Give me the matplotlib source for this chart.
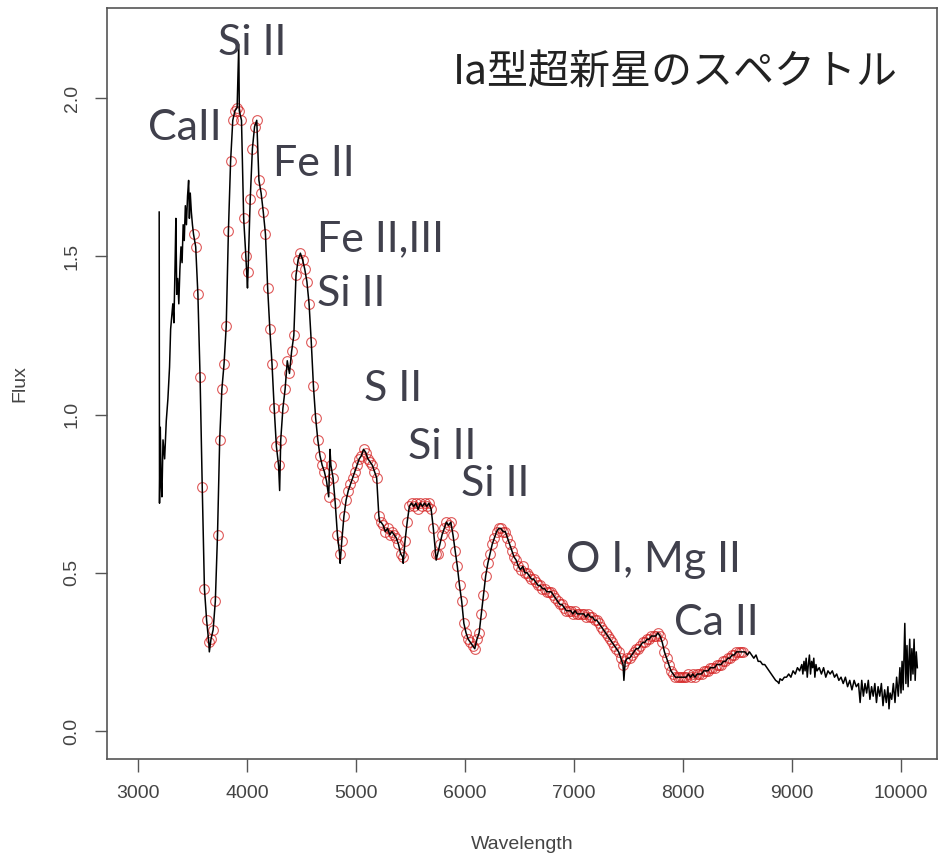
import matplotlib.pyplot as plt
import numpy as np

plt.rcParams['font.family'] = ['Liberation Sans', 'DejaVu Sans']

# espectro: parte azul antes de los circulos
wave_blue = [3195, 3198, 3205, 3212, 3220, 3230, 3245, 3260, 3275, 3290,
             3300, 3310, 3320, 3330, 3340, 3348, 3356, 3365, 3375, 3385,
             3395, 3405, 3415, 3425, 3435, 3445, 3455, 3465, 3472, 3480,
             3490, 3500]
flux_blue = [1.64, 0.72, 0.96, 0.80, 0.74, 0.92, 0.86, 0.98, 1.05, 1.15,
             1.27, 1.31, 1.35, 1.29, 1.46, 1.62, 1.38, 1.43, 1.35, 1.46,
             1.53, 1.48, 1.60, 1.55, 1.66, 1.60, 1.69, 1.74, 1.62, 1.70,
             1.64, 1.60]

# parte central (con circulos rojos)
wave_mid = [3510, 3530, 3550, 3570, 3590, 3610, 3630, 3650, 3670, 3690,
            3710, 3730, 3750, 3770, 3790, 3810, 3830, 3850, 3870, 3890,
            3910, 3930, 3950, 3970, 3990, 4010, 4030, 4050, 4070, 4090,
            4110, 4130, 4150, 4170, 4190, 4210, 4230, 4250, 4270, 4290,
            4310, 4330, 4350, 4370, 4390, 4410, 4430, 4450, 4470, 4490,
            4510, 4530, 4550, 4570, 4590, 4610, 4630, 4650, 4670, 4690,
            4710, 4730, 4750, 4770, 4790, 4810, 4830, 4850, 4870, 4890,
            4910, 4930, 4950, 4970, 4990, 5010, 5030, 5050, 5070, 5090,
            5110, 5130, 5150, 5170, 5190, 5210, 5230, 5250, 5270, 5290,
            5310, 5330, 5350, 5370, 5390, 5410, 5430, 5450, 5470, 5490,
            5510, 5530, 5550, 5570, 5590, 5610, 5630, 5650, 5670, 5690,
            5710, 5730, 5750, 5770, 5790, 5810, 5830, 5850, 5870, 5890,
            5910, 5930, 5950, 5970, 5990, 6010, 6030, 6050, 6070, 6090,
            6110, 6130, 6150, 6170, 6190, 6210, 6230, 6250, 6270, 6290,
            6310, 6330, 6350, 6370, 6390, 6410, 6430, 6450, 6470, 6490,
            6510, 6530, 6550, 6570, 6590, 6610, 6630, 6650, 6670, 6690,
            6710, 6730, 6750, 6770, 6790, 6810, 6830, 6850, 6870, 6890,
            6910, 6930, 6950, 6970, 6990, 7010, 7030, 7050, 7070, 7090,
            7110, 7130, 7150, 7170, 7190, 7210, 7230, 7250, 7270, 7290,
            7310, 7330, 7350, 7370, 7390, 7410, 7430, 7450, 7470, 7490,
            7510, 7530, 7550, 7570, 7590, 7610, 7630, 7650, 7670, 7690,
            7710, 7730, 7750, 7770, 7790, 7810, 7830, 7850, 7870, 7890,
            7910, 7930, 7950, 7970, 7990, 8010, 8030, 8050, 8070, 8090,
            8110, 8130, 8150, 8170, 8190, 8210, 8230, 8250, 8270, 8290,
            8310, 8330, 8350, 8370, 8390, 8410, 8430, 8450, 8470, 8490,
            8510, 8530, 8550]
flux_mid = [1.57, 1.53, 1.38, 1.12, 0.77, 0.45, 0.35, 0.28, 0.29, 0.32,
            0.41, 0.62, 0.92, 1.08, 1.16, 1.28, 1.58, 1.80, 1.93, 1.96,
            1.97, 1.96, 1.93, 1.62, 1.50, 1.45, 1.68, 1.84, 1.91, 1.93,
            1.74, 1.70, 1.64, 1.57, 1.40, 1.27, 1.16, 1.02, 0.90, 0.84,
            0.92, 1.02, 1.08, 1.17, 1.13, 1.20, 1.25, 1.44, 1.49, 1.51,
            1.49, 1.46, 1.42, 1.35, 1.23, 1.09, 0.99, 0.92, 0.87, 0.84,
            0.82, 0.79, 0.74, 0.84, 0.80, 0.72, 0.62, 0.56, 0.60, 0.68,
            0.73, 0.76, 0.78, 0.80, 0.82, 0.84, 0.86, 0.87, 0.89, 0.88,
            0.86, 0.85, 0.84, 0.82, 0.80, 0.68, 0.66, 0.65, 0.63, 0.64,
            0.62, 0.63, 0.62, 0.61, 0.59, 0.56, 0.55, 0.60, 0.66, 0.71,
            0.72, 0.71, 0.72, 0.70, 0.72, 0.71, 0.72, 0.71, 0.72, 0.70,
            0.64, 0.56, 0.56, 0.59, 0.62, 0.64, 0.66, 0.65, 0.66, 0.62,
            0.57, 0.52, 0.46, 0.41, 0.34, 0.31, 0.29, 0.28, 0.27, 0.26,
            0.29, 0.31, 0.37, 0.43, 0.49, 0.53, 0.56, 0.59, 0.61, 0.63,
            0.64, 0.64, 0.63, 0.63, 0.61, 0.59, 0.57, 0.55, 0.54, 0.52,
            0.51, 0.52, 0.50, 0.50, 0.49, 0.48, 0.48, 0.47, 0.46, 0.46,
            0.45, 0.45, 0.44, 0.44, 0.44, 0.43, 0.42, 0.41, 0.40, 0.40,
            0.39, 0.38, 0.38, 0.38, 0.37, 0.38, 0.37, 0.37, 0.37, 0.37,
            0.36, 0.37, 0.36, 0.36, 0.35, 0.35, 0.34, 0.33, 0.32, 0.31,
            0.30, 0.29, 0.28, 0.27, 0.26, 0.25, 0.23, 0.21, 0.22, 0.23,
            0.23, 0.24, 0.25, 0.26, 0.26, 0.27, 0.28, 0.28, 0.29, 0.29,
            0.30, 0.30, 0.30, 0.31, 0.30, 0.28, 0.25, 0.23, 0.21, 0.19,
            0.18, 0.17, 0.17, 0.17, 0.17, 0.17, 0.17, 0.18, 0.17, 0.18,
            0.17, 0.18, 0.18, 0.18, 0.19, 0.19, 0.19, 0.20, 0.20, 0.20,
            0.21, 0.21, 0.21, 0.22, 0.22, 0.23, 0.23, 0.24, 0.24, 0.25,
            0.25, 0.25, 0.25]

# picos estrechos que solo tiene la linea negra
wave_spike = [3655, 3925, 4005, 4300, 4762, 4855, 5219, 5433, 5736, 7458]
flux_spike = [0.25, 2.17, 1.40, 0.76, 0.89, 0.53, 0.66, 0.53, 0.54, 0.16]

# parte roja (solo linea negra, ruidosa)
wave_red = [8570, 8590, 8610, 8630, 8650, 8670, 8690, 8710, 8730, 8750,
            8770, 8790, 8810, 8830, 8850, 8870, 8880, 8890, 8910, 8930,
            8950, 8970, 8990, 9010, 9030, 9050, 9070, 9090, 9100, 9110,
            9120, 9130, 9140, 9150, 9160, 9170, 9180, 9190, 9200, 9210,
            9220, 9230, 9250, 9270, 9290, 9310, 9330, 9350, 9370, 9390,
            9410, 9430, 9450, 9470, 9490, 9510, 9530, 9550, 9570, 9590,
            9610, 9625, 9640, 9655, 9670, 9685, 9700, 9715, 9730, 9745,
            9760, 9775, 9790, 9805, 9820, 9835, 9850, 9865, 9880, 9890,
            9900, 9915, 9930, 9945, 9960, 9975, 9990, 10000, 10010, 10020,
            10035, 10045, 10055, 10065, 10080, 10090, 10100, 10110, 10120, 10130,
            10140, 10150]
flux_red = [0.25, 0.24, 0.25, 0.24, 0.23, 0.24, 0.22, 0.22, 0.21, 0.21,
            0.20, 0.19, 0.18, 0.17, 0.16, 0.155, 0.15, 0.165, 0.16, 0.17,
            0.17, 0.18, 0.17, 0.19, 0.18, 0.20, 0.19, 0.21, 0.18, 0.22,
            0.19, 0.23, 0.17, 0.21, 0.24, 0.18, 0.22, 0.20, 0.23, 0.17,
            0.21, 0.19, 0.20, 0.18, 0.20, 0.17, 0.19, 0.18, 0.19, 0.17,
            0.18, 0.16, 0.17, 0.15, 0.17, 0.14, 0.16, 0.13, 0.16, 0.14,
            0.15, 0.09, 0.16, 0.11, 0.15, 0.12, 0.16, 0.10, 0.14, 0.11,
            0.15, 0.09, 0.14, 0.11, 0.15, 0.08, 0.13, 0.09, 0.14, 0.07,
            0.12, 0.10, 0.15, 0.09, 0.17, 0.11, 0.20, 0.12, 0.22, 0.13,
            0.34, 0.15, 0.27, 0.14, 0.29, 0.16, 0.26, 0.18, 0.29, 0.16,
            0.25, 0.20]

# etiquetas de las lineas: (texto, longitud de onda, flujo)
line_labels = ['Si II', 'CaII', 'Fe II', 'Fe II,III', 'Si II', 'S II',
               'Si II', 'Si II', 'O I, Mg II', 'Ca II']
label_wave = [3734, 3092, 4239, 4642, 4642, 5074, 5477, 5963, 6927, 7917]
label_flux = [2.174, 1.905, 1.791, 1.554, 1.380, 1.082, 0.896, 0.782, 0.541, 0.342]

titulo = 'Ia型超新星のスペクトル'
xticks = [3000, 4000, 5000, 6000, 7000, 8000, 9000, 10000]
yticks = [0.0, 0.5, 1.0, 1.5, 2.0]

# junta todo para la linea negra
w_all = np.concatenate([wave_blue, wave_mid, wave_spike, wave_red])
f_all = np.concatenate([flux_blue, flux_mid, flux_spike, flux_red])
orden = np.argsort(w_all, kind='stable')

fig = plt.figure(figsize=(9.45, 8.56), dpi=100)
ax = fig.add_axes([0.1132, 0.1133, 0.8783, 0.8774])

ax.plot(wave_mid, flux_mid, 'o', ms=7, mfc='none', mec='#d42020',
        mew=0.8, alpha=0.75, zorder=2)
ax.plot(w_all[orden], f_all[orden], c='black', lw=1.1, zorder=3)

ax.set_xlim(2716, 10330)
ax.set_ylim(-0.0886, 2.285)
ax.set_xticks(xticks)
ax.set_yticks(yticks)
ax.set_yticklabels(['%.1f' % v for v in yticks], rotation=90, va='center')
ax.tick_params(direction='out', length=9, width=1, colors='#555555',
               labelcolor='#444444', labelsize=14, pad=10)
for s in ax.spines.values():
    s.set_color('#555555')
    s.set_linewidth(1.2)

ax.set_xlabel('Wavelength', fontsize=14, color='#444444', labelpad=24)
ax.set_ylabel('Flux', fontsize=14, color='#444444', labelpad=25)

for txt, xw, yf in zip(line_labels, label_wave, label_flux):
    ax.text(xw, yf, txt, fontsize=31, color='#40404c', ha='left', va='center',
            family=['Lato', 'DejaVu Sans'])

ax.text(5890, 2.08, titulo, fontsize=29.5, color='#222222', ha='left',
        va='center', family=['Noto Sans CJK JP', 'DejaVu Sans'])

fig.savefig('out.png', dpi=100)
